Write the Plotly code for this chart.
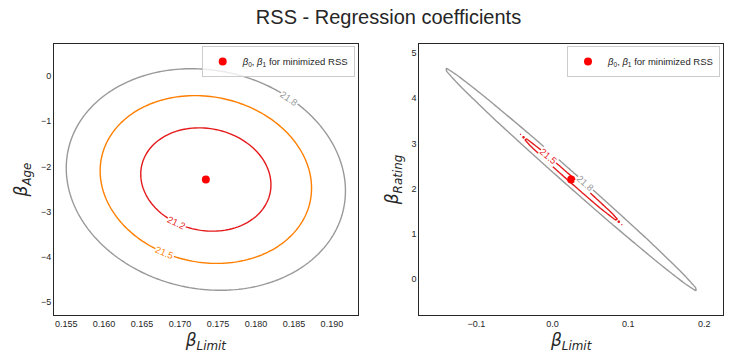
import numpy as np
import plotly.graph_objects as go

FIG_W, FIG_H = 730, 364

# ---------------- data ----------------
# Left panel: RSS (millions) as function of (beta_Limit, beta_Age)
LIMIT_AGE_MIN = [0.1734, -2.29]                 # coefficients at minimum RSS
LIMIT_AGE_RSS_MIN = 21.097                      # minimum RSS
LIMIT_AGE_HESSIAN = [[2101.6, 1.618],           # quadratic form of the RSS surface
                     [1.618, 0.1181]]
LIMIT_AGE_HALFSPAN = [0.02, 3.0]                # grid half-width around the minimum
LIMIT_AGE_LEVELS = [21.25, 21.5, 21.8]
LIMIT_AGE_LEVEL_TEXT = ["21.2", "21.5", "21.8"]

# Right panel: RSS (millions) as function of (beta_Limit, beta_Rating)
LIMIT_RATING_MIN = [0.0247, 2.2017]
LIMIT_RATING_RSS_MIN = 21.440
LIMIT_RATING_HESSIAN = [[1956.1, 131.27],
                        [131.27, 8.868]]
LIMIT_RATING_HALFSPAN = [0.2, 3.0]
LIMIT_RATING_LEVELS = [21.5, 21.8]
LIMIT_RATING_LEVEL_TEXT = ["21.5", "21.8"]

LEFT_XTICKS = [0.155, 0.160, 0.165, 0.170, 0.175, 0.180, 0.185, 0.190]
LEFT_YTICKS = [-5, -4, -3, -2, -1, 0]
RIGHT_XTICKS = [-0.1, 0.0, 0.1, 0.2]
RIGHT_YTICKS = [0, 1, 2, 3, 4, 5]

LEGEND_TEXT = "<i>β</i><sub>0</sub>, <i>β</i><sub>1</sub> for minimized RSS"
TITLE = "RSS - Regression coefficients"

# ---------------- style ----------------
LEFT_COLORS = ["#e41a1c", "#ff7f00", "#999999"]
RIGHT_COLORS = ["#e41a1c", "#999999"]
LEFT_LABEL_DX = [-0.0039, -0.00545, 0.011]   # label placement along each contour
LEFT_LABEL_SIDE = [-1, -1, 1]
RIGHT_LABEL_DX = [-0.0294, 0.0193]
RIGHT_LABEL_SIDE = [1, 1]

# plot-area geometry in pixels
M_L, M_R, M_T, M_B = 54.3, FIG_W - 723.3, 44.0, FIG_H - 315.0
AREA_W = FIG_W - M_L - M_R
AREA_H = FIG_H - M_T - M_B
PANEL_W = 303.7
DOM_LEFT = [0.0, PANEL_W / AREA_W]
DOM_RIGHT = [1.0 - PANEL_W / AREA_W, 1.0]
DOM_Y = [0.0, 1.0]

TEXT_COLOR = "#262626"
FONT = "Liberation Sans, Arial, sans-serif"
MATH_FONT = "DejaVu Sans, sans-serif"


def rss_grid(center, rss_min, hess, halfspan, n=100):
    xs = np.linspace(center[0] - halfspan[0], center[0] + halfspan[0], n)
    ys = np.linspace(center[1] - halfspan[1], center[1] + halfspan[1], n)
    X, Y = np.meshgrid(xs, ys, indexing="xy")
    dx, dy = X - center[0], Y - center[1]
    h = np.asarray(hess)
    Z = rss_min + h[0, 0] * dx**2 + 2 * h[0, 1] * dx * dy + h[1, 1] * dy**2
    return xs, ys, Z


def label_spec(center, rss_min, hess, level, dx, side, pxx, pxy):
    a11, a12, a22 = hess[0][0], hess[0][1], hess[1][1]
    delta = level - rss_min
    disc = a12**2 * dx**2 - a22 * (a11 * dx**2 - delta)
    dy = (-a12 * dx + side * np.sqrt(max(disc, 0.0))) / a22
    gx = a11 * dx + a12 * dy
    gy = a12 * dx + a22 * dy
    tx, ty = -gy, gx
    ang = np.degrees(np.arctan2(-ty * pxy, tx * pxx))
    if ang > 90:
        ang -= 180
    if ang <= -90:
        ang += 180
    return center[0] + dx, center[1] + dy, ang


fig = go.Figure()
annotations = []

panels = [
    dict(center=LIMIT_AGE_MIN, rmin=LIMIT_AGE_RSS_MIN, hess=LIMIT_AGE_HESSIAN,
         span=LIMIT_AGE_HALFSPAN, levels=LIMIT_AGE_LEVELS, texts=LIMIT_AGE_LEVEL_TEXT,
         colors=LEFT_COLORS, ldx=LEFT_LABEL_DX, lside=LEFT_LABEL_SIDE,
         xa="x", ya="y", legend="legend"),
    dict(center=LIMIT_RATING_MIN, rmin=LIMIT_RATING_RSS_MIN, hess=LIMIT_RATING_HESSIAN,
         span=LIMIT_RATING_HALFSPAN, levels=LIMIT_RATING_LEVELS, texts=LIMIT_RATING_LEVEL_TEXT,
         colors=RIGHT_COLORS, ldx=RIGHT_LABEL_DX, lside=RIGHT_LABEL_SIDE,
         xa="x2", ya="y2", legend="legend2"),
]

for p in panels:
    xs, ys, Z = rss_grid(p["center"], p["rmin"], p["hess"], p["span"])
    pxx = PANEL_W / (2 * p["span"][0])
    pxy = AREA_H / (2 * p["span"][1])
    for lvl, col, txt, ldx, lside in zip(p["levels"], p["colors"], p["texts"], p["ldx"], p["lside"]):
        fig.add_trace(go.Contour(
            x=xs, y=ys, z=Z, xaxis=p["xa"], yaxis=p["ya"],
            autocontour=False,
            contours=dict(start=lvl, end=lvl, size=1, coloring="lines", showlabels=False),
            colorscale=[[0, col], [1, col]], showscale=False,
            line=dict(width=1.4, smoothing=0), hoverinfo="skip", showlegend=False,
        ))
        lx, ly, ang = label_spec(p["center"], p["rmin"], p["hess"], lvl, ldx, lside, pxx, pxy)
        annotations.append(dict(
            x=lx, y=ly, xref=p["xa"], yref=p["ya"], text=txt, showarrow=False,
            textangle=ang, font=dict(family=FONT, size=9.5, color=col),
            bgcolor="white", borderpad=0,
        ))
    fig.add_trace(go.Scatter(
        x=[p["center"][0]], y=[p["center"][1]], mode="markers",
        marker=dict(color="red", size=8), name=LEGEND_TEXT,
        xaxis=p["xa"], yaxis=p["ya"], legend=p["legend"], showlegend=True,
        hoverinfo="skip",
    ))

axis_common = dict(showgrid=False, zeroline=False, showline=True, mirror=True,
                   linecolor=TEXT_COLOR, linewidth=1, ticks="", automargin=False,
                   tickfont=dict(family=FONT, size=9, color=TEXT_COLOR))
title_font = dict(family=MATH_FONT, size=17, color=TEXT_COLOR)
xlabel = "<i>β<sub>Limit</sub></i>"

legend_common = dict(font=dict(family=FONT, size=9.5, color=TEXT_COLOR),
                     bgcolor="rgba(255,255,255,0.8)", bordercolor="#cccccc", borderwidth=1,
                     xanchor="right", yanchor="top", itemwidth=30,
                     xref="paper", yref="paper")

fig.update_layout(
    width=FIG_W, height=FIG_H,
    margin=dict(l=M_L, r=M_R, t=M_T, b=M_B, autoexpand=False),
    paper_bgcolor="white", plot_bgcolor="white",
    title=dict(text=TITLE, x=0.5, xref="paper", xanchor="center",
               y=1 - 17 / FIG_H, yref="container", yanchor="middle",
               font=dict(family=FONT, size=20, color=TEXT_COLOR)),
    xaxis=dict(domain=DOM_LEFT, anchor="y",
               range=[LIMIT_AGE_MIN[0] - LIMIT_AGE_HALFSPAN[0], LIMIT_AGE_MIN[0] + LIMIT_AGE_HALFSPAN[0]],
               tickvals=LEFT_XTICKS, tickformat=".3f",
               title=dict(text=xlabel, font=title_font, standoff=6), **axis_common),
    yaxis=dict(domain=DOM_Y, anchor="x",
               range=[LIMIT_AGE_MIN[1] - LIMIT_AGE_HALFSPAN[1], LIMIT_AGE_MIN[1] + LIMIT_AGE_HALFSPAN[1]],
               tickvals=LEFT_YTICKS,
               title=dict(text="<i>β<sub>Age</sub></i>", font=title_font, standoff=8), **axis_common),
    xaxis2=dict(domain=DOM_RIGHT, anchor="y2",
                range=[LIMIT_RATING_MIN[0] - LIMIT_RATING_HALFSPAN[0], LIMIT_RATING_MIN[0] + LIMIT_RATING_HALFSPAN[0]],
                tickvals=RIGHT_XTICKS, tickformat=".1f",
                title=dict(text=xlabel, font=title_font, standoff=6), **axis_common),
    yaxis2=dict(domain=DOM_Y, anchor="x2",
                range=[LIMIT_RATING_MIN[1] - LIMIT_RATING_HALFSPAN[1], LIMIT_RATING_MIN[1] + LIMIT_RATING_HALFSPAN[1]],
                tickvals=RIGHT_YTICKS,
                title=dict(text="<i>β<sub>Rating</sub></i>", font=title_font, standoff=8), **axis_common),
    legend=dict(x=DOM_LEFT[1] - 3 / AREA_W, y=1 - 2 / AREA_H, **legend_common),
    legend2=dict(x=DOM_RIGHT[1] - 3 / AREA_W, y=1 - 2 / AREA_H, **legend_common),
    annotations=annotations,
)

fig.write_html("out.html", config={"displayModeBar": False},
               post_script="document.body.style.margin='0';document.body.style.overflow='hidden';")
